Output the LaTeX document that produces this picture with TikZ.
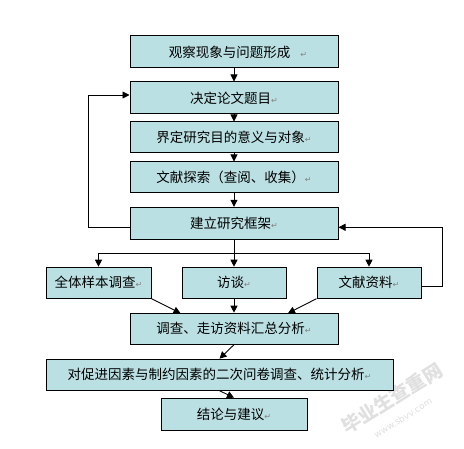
\documentclass[tikz,border=0pt]{standalone}
\usepackage{fontspec}
\newfontfamily\cjk{Noto Sans CJK SC}
\newfontfamily\djv{DejaVu Sans}
\usetikzlibrary{arrows.meta}
\begin{document}
\begin{tikzpicture}[x=1pt,y=-1pt,
  box/.style={draw=black,line width=1pt,fill=boxfill,inner sep=0pt,font=\cjk\fontsize{13.5}{15}\selectfont},
  conn/.style={line width=0.9pt,-{Triangle[length=7pt,width=7pt]}},
  plain/.style={line width=0.9pt}]
\definecolor{boxfill}{HTML}{BBE0E3}
\newcommand{\pmark}{\textcolor{gray}{\djv\fontsize{8}{8}\selectfont ↵}}
\useasboundingbox (0,0) rectangle (464,449);
\fill[white] (0,0) rectangle (464,449);
% watermark
\node[rotate=32,text=black!12,font=\cjk\bfseries\fontsize{19}{19}\selectfont] (wm1) at (392,398) {毕业生查重网};
\node[rotate=32,text=black!12,font=\djv\fontsize{9}{9}\selectfont] (wm2) at (403,418) {www.sbvv.com};
% boxes
\node[box,minimum width=208,minimum height=32] (b1) at (234,52) {\hspace{8pt}观察现象与问题形成\hspace{10pt}\pmark};
\node[box,minimum width=208,minimum height=32] (b2) at (234,98) {决定论文题目\pmark};
\node[box,minimum width=208,minimum height=31] (b3) at (234,137.5) {界定研究目的意义与对象\pmark};
\node[box,minimum width=208,minimum height=31] (b4) at (234,177.5) {文献探索（查阅、收集）\pmark};
\node[box,minimum width=208,minimum height=32] (b5) at (234,223.3) {建立研究框架\pmark};
\node[box,minimum width=105,minimum height=31] (b6) at (98.5,282.7) {全体样本调查\pmark};
\node[box,minimum width=104,minimum height=31] (b7) at (234,282.7) {访谈\pmark};
\node[box,minimum width=104,minimum height=31] (b8) at (369,282.7) {文献资料\pmark};
\node[box,minimum width=208,minimum height=31] (b9) at (234,328.7) {调查、走访资料汇总分析\pmark};
\node[box,minimum width=347,minimum height=31] (b10) at (219.5,374.7) {对促进因素与制约因素的二次问卷调查、统计分析\pmark};
\node[box,minimum width=146,minimum height=32] (b11) at (234,414.2) {结论与建议\pmark};
% coordinates
\coordinate (fbl1) at (88,227.3);
\coordinate (fbl2) at (88,95);
\coordinate (split) at (234,253.5);
\coordinate (sl) at (98.5,253.5);
\coordinate (sr) at (369,253.5);
\coordinate (fbr1) at (442,286);
\coordinate (fbr2) at (442,227.3);
% connectors
\draw[conn] (b1.south) -- (b2.north);
\draw[conn] (b2.south) -- (b3.north);
\draw[conn] (b3.south) -- (b4.north);
\draw[conn] (b4.south) -- (b5.north);
\draw[conn] (b5.west |- fbl1) -- (fbl1) -- (fbl2) -- (b2.west |- fbl2);
\draw[plain] (b5.south) -- (split);
\draw[plain] (sl) -- (sr);
\draw[conn] (sl) -- (b6.north);
\draw[conn] (split) -- (b7.north);
\draw[conn] (sr) -- (b8.north);
\draw[conn] (b8.east |- fbr1) -- (fbr1) -- (fbr2) -- (b5.east |- fbr2);
\draw[conn] (b6.south east) -- (180.5,313.2);
\draw[conn] (b7.south) -- (b9.north);
\draw[conn] (b8.south west) -- (288,313.2);
\draw[conn] (b9.south) -- (b10.north);
\draw[conn] (b10.south) -- (b11.north);
\end{tikzpicture}
\end{document}
